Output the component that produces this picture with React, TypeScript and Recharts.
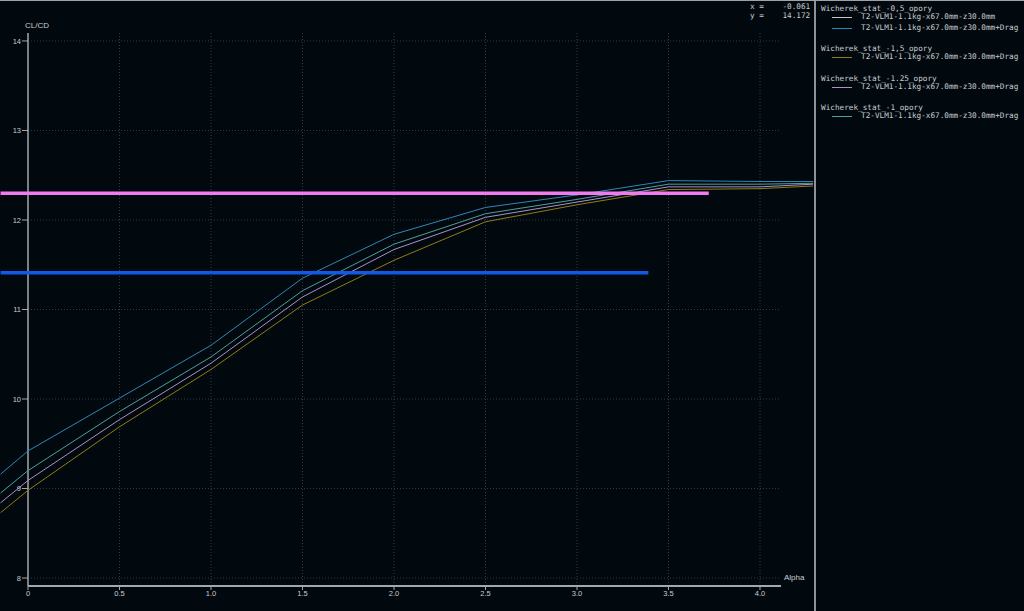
import React from 'react';
import { LineChart, Line, XAxis, YAxis, ReferenceLine } from 'recharts';

// alpha positions (first/last at the plot edges)
const alpha = [-0.15, 0, 0.5, 1.0, 1.5, 2.0, 2.5, 3.0, 3.5, 4.0, 4.29];

const dragMinus05 = [9.16, 9.42, 10.01, 10.6, 11.35, 11.84, 12.14, 12.28, 12.44, 12.43, 12.43];
const dragMinus1 = [8.95, 9.2, 9.86, 10.47, 11.21, 11.73, 12.07, 12.23, 12.4, 12.4, 12.41];
const dragMinus125 = [8.84, 9.09, 9.77, 10.4, 11.14, 11.67, 12.03, 12.2, 12.37, 12.37, 12.4];
const dragMinus15 = [8.73, 8.98, 9.69, 10.33, 11.05, 11.55, 11.98, 12.17, 12.34, 12.35, 12.38];

// the two thick horizontal markers
const pinkX = [-0.15, 3.72];
const pinkY = [12.3, 12.3];
const blueX = [-0.15, 3.39];
const blueY = [11.41, 11.41];

const xTicks = [0, 0.5, 1.0, 1.5, 2.0, 2.5, 3.0, 3.5, 4.0];
const yTicks = [8, 9, 10, 11, 12, 13, 14];

const X_MIN = -0.153;
const X_MAX = 4.295;
const Y_MIN = 7.911;
const Y_MAX = 14.089;
const AXIS_END = 4.115;

const toPoints = (xs: number[], ys: number[]) => xs.map((x, i) => ({ x, y: ys[i] }));

const series = [
  { name: 'm05', data: toPoints(alpha, dragMinus05), color: '#2e86b8' },
  { name: 'm1', data: toPoints(alpha, dragMinus1), color: '#4f9f9c' },
  { name: 'm125', data: toPoints(alpha, dragMinus125), color: '#a990c8' },
  { name: 'm15', data: toPoints(alpha, dragMinus15), color: '#8f7d14' },
];

const legend = [
  { title: 'Wicherek_stat_-0,5_opory', top: 9, items: [
    { label: 'T2-VLM1-1.1kg-x67.0mm-z30.0mm', color: '#c8c8c8', top: 17 },
    { label: 'T2-VLM1-1.1kg-x67.0mm-z30.0mm+Drag', color: '#2e86b8', top: 28 },
  ] },
  { title: 'Wicherek_stat_-1,5_opory', top: 49, items: [
    { label: 'T2-VLM1-1.1kg-x67.0mm-z30.0mm+Drag', color: '#8f7d14', top: 57 },
  ] },
  { title: 'Wicherek_stat_-1.25_opory', top: 79, items: [
    { label: 'T2-VLM1-1.1kg-x67.0mm-z30.0mm+Drag', color: '#a990c8', top: 87 },
  ] },
  { title: 'Wicherek_stat_-1_opory', top: 108, items: [
    { label: 'T2-VLM1-1.1kg-x67.0mm-z30.0mm+Drag', color: '#4f9f9c', top: 116 },
  ] },
];

const GRID = '#323c40';
const AXIS = '#a4a8ac';
const TEXT = '#c8ccd0';
const mono = '"DejaVu Sans Mono", "Liberation Mono", monospace';
const sans = '"Liberation Sans", Arial, sans-serif';

const fmtX = (v: number) => (v === 0 ? '0' : v.toFixed(1));

export default function App() {
  return (
    <div style={{ position: 'absolute', left: 0, top: 0, width: 1024, height: 611, background: '#02090e', overflow: 'hidden' }}>
      <div style={{ position: 'absolute', left: 0, top: 0, width: 1024, height: 1, background: '#9ea2a6' }} />
      <div style={{ position: 'absolute', left: 0, top: 1 }}>
        <LineChart width={814} height={610} margin={{ top: 32, right: 0, bottom: 0, left: 0 }}>
          <XAxis
            type="number"
            dataKey="x"
            domain={[X_MIN, X_MAX]}
            allowDataOverflow
            ticks={xTicks}
            tickFormatter={fmtX}
            axisLine={false}
            tickLine={{ stroke: AXIS }}
            tickSize={4}
            tickMargin={1}
            height={25}
            tick={{ fill: TEXT, fontSize: 7.5, fontFamily: sans }}
          />
          <YAxis type="number" dataKey="y" domain={[Y_MIN, Y_MAX]} allowDataOverflow hide />

          {yTicks.map((v) => (
            <ReferenceLine
              key={'hg' + v}
              segment={[{ x: 0, y: v }, { x: AXIS_END, y: v }]}
              stroke={GRID}
              strokeDasharray="1 2"
              ifOverflow="visible"
              label={{ value: String(v), position: 'left', offset: 7, fill: TEXT, fontSize: 7.5, fontFamily: sans }}
            />
          ))}
          {yTicks.map((v) => (
            <ReferenceLine
              key={'yt' + v}
              segment={[{ x: -0.033, y: v }, { x: 0, y: v }]}
              stroke={AXIS}
              ifOverflow="visible"
            />
          ))}
          {xTicks.filter((v) => v > 0).map((v) => (
            <ReferenceLine
              key={'vg' + v}
              segment={[{ x: v, y: Y_MIN }, { x: v, y: Y_MAX }]}
              stroke={GRID}
              strokeDasharray="1 2"
              ifOverflow="visible"
            />
          ))}

          <ReferenceLine segment={[{ x: 0, y: Y_MIN }, { x: 0, y: Y_MAX }]} stroke={AXIS} strokeWidth={1.5} ifOverflow="visible" />
          <ReferenceLine segment={[{ x: 0, y: Y_MIN }, { x: AXIS_END, y: Y_MIN }]} stroke={AXIS} strokeWidth={2} ifOverflow="visible" />

          {series.map((s) => (
            <Line
              key={s.name}
              data={s.data}
              dataKey="y"
              type="linear"
              stroke={s.color}
              strokeWidth={1}
              dot={false}
              isAnimationActive={false}
            />
          ))}
          <Line data={toPoints(blueX, blueY)} dataKey="y" type="linear" stroke="#1259e8" strokeWidth={3.5} dot={false} isAnimationActive={false} />
          <Line data={toPoints(pinkX, pinkY)} dataKey="y" type="linear" stroke="#f07af0" strokeWidth={3.5} dot={false} isAnimationActive={false} />
        </LineChart>
      </div>

      <div style={{ position: 'absolute', left: 25, top: 21, color: TEXT, fontSize: 8, fontFamily: sans }}>CL/CD</div>
      <div style={{ position: 'absolute', left: 784, top: 573, color: TEXT, fontSize: 8, fontFamily: sans }}>Alpha</div>

      <pre style={{ position: 'absolute', left: 750, top: 2, margin: 0, color: TEXT, fontSize: 7.7, lineHeight: '9px', fontFamily: mono }}>
        {'x =    -0.061\ny =    14.172'}
      </pre>

      <div style={{ position: 'absolute', left: 814, top: 1, width: 2, height: 610, background: '#8e9296' }} />

      {legend.map((g) => (
        <React.Fragment key={g.title}>
          <div style={{ position: 'absolute', left: 821, top: g.top - 5, color: TEXT, fontSize: 7.7, lineHeight: '10px', fontFamily: mono, whiteSpace: 'pre' }}>
            {g.title}
          </div>
          {g.items.map((it) => (
            <React.Fragment key={it.label + it.top}>
              <div style={{ position: 'absolute', left: 832, top: it.top - 0.5, width: 20, height: 1, background: it.color }} />
              <div style={{ position: 'absolute', left: 861, top: it.top - 5, color: TEXT, fontSize: 7.7, lineHeight: '10px', fontFamily: mono, whiteSpace: 'pre' }}>
                {it.label}
              </div>
            </React.Fragment>
          ))}
        </React.Fragment>
      ))}
    </div>
  );
}
